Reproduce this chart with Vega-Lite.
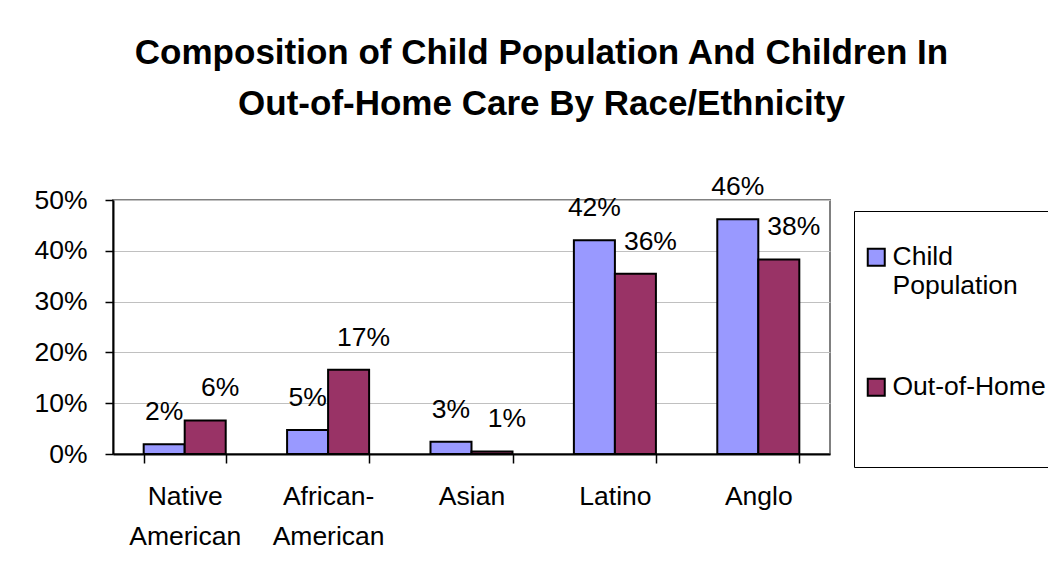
{
  "$schema": "https://vega.github.io/schema/vega-lite/v6.json",
  "autosize": "none",
  "width": 717,
  "height": 254,
  "padding": {"left": 113, "top": 200, "right": 218, "bottom": 131},
  "background": "white",
  "title": {
    "text": ["Composition of Child Population And Children In", "Out-of-Home Care By Race/Ethnicity"],
    "font": "Liberation Sans",
    "fontSize": 35,
    "fontWeight": "bold",
    "color": "#000000",
    "lineHeight": 51,
    "anchor": "middle",
    "frame": "group",
    "dx": 70,
    "offset": 52
  },
  "config": {
    "view": {"stroke": "#808080", "strokeWidth": 2},
    "font": "Liberation Sans"
  },
  "data": {
    "values": [
      {"race": "Native American", "series": "Child Population", "value": 0.019, "label": "2%"},
      {"race": "Native American", "series": "Out-of-Home", "value": 0.066, "label": "6%"},
      {"race": "African-American", "series": "Child Population", "value": 0.047, "label": "5%"},
      {"race": "African-American", "series": "Out-of-Home", "value": 0.166, "label": "17%"},
      {"race": "Asian", "series": "Child Population", "value": 0.024, "label": "3%"},
      {"race": "Asian", "series": "Out-of-Home", "value": 0.005, "label": "1%"},
      {"race": "Latino", "series": "Child Population", "value": 0.421, "label": "42%"},
      {"race": "Latino", "series": "Out-of-Home", "value": 0.355, "label": "36%"},
      {"race": "Anglo", "series": "Child Population", "value": 0.462, "label": "46%"},
      {"race": "Anglo", "series": "Out-of-Home", "value": 0.383, "label": "38%"}
    ]
  },
  "encoding": {
    "x": {
      "field": "race",
      "type": "nominal",
      "sort": ["Native American", "African-American", "Asian", "Latino", "Anglo"],
      "scale": {"paddingInner": 0.428, "paddingOuter": 0.214},
      "axis": {
        "title": null,
        "labelAngle": 0,
        "labelFont": "Liberation Sans",
        "labelFontSize": 26.5,
        "labelColor": "#000000",
        "labelLineHeight": 40,
        "labelPadding": 20,
        "labelExpr": "datum.label == 'Native American' ? ['Native', 'American'] : datum.label == 'African-American' ? ['African-', 'American'] : datum.label",
        "tickBand": "extent",
        "tickSize": 9,
        "tickColor": "#000000",
        "tickWidth": 1.5,
        "domainColor": "#000000",
        "domainWidth": 2,
        "grid": false
      }
    },
    "xOffset": {"field": "series", "type": "nominal", "sort": ["Child Population", "Out-of-Home"], "scale": {"paddingInner": 0, "paddingOuter": 0}},
    "y": {
      "field": "value",
      "type": "quantitative",
      "scale": {"domain": [0, 0.5], "nice": false},
      "axis": {
        "title": null,
        "values": [0, 0.1, 0.2, 0.3, 0.4, 0.5],
        "format": ".0%",
        "labelFont": "Liberation Sans",
        "labelFontSize": 26.5,
        "labelColor": "#000000",
        "labelPadding": 18,
        "tickSize": 8,
        "tickColor": "#000000",
        "tickWidth": 1.5,
        "domainColor": "#000000",
        "domainWidth": 2,
        "gridColor": "#c0c0c0",
        "gridWidth": 1
      }
    }
  },
  "layer": [
    {
      "mark": {"type": "bar", "stroke": "#000000", "strokeWidth": 2},
      "encoding": {
        "color": {
          "field": "series",
          "type": "nominal",
          "sort": ["Child Population", "Out-of-Home"],
          "scale": {"domain": ["Child Population", "Out-of-Home"], "range": ["#9999ff", "#993366"]},
          "legend": {
            "title": " ",
            "titleFontSize": 12,
            "titlePadding": 12,
            "orient": "none",
            "legendX": 741,
            "legendY": 11,
            "direction": "vertical",
            "symbolType": "square",
            "symbolSize": 289,
            "symbolStrokeColor": "#000000",
            "symbolStrokeWidth": 2,
            "labelFont": "Liberation Sans",
            "labelFontSize": 26.5,
            "labelColor": "#000000",
            "labelLimit": 400,
            "labelOffset": 3,
            "labelExpr": "datum.label == 'Child Population' ? ['Child', 'Population'] : [datum.label, ' ', ' ']",
            "rowPadding": 74,
            "padding": 9,
            "strokeColor": "#000000",
            "fillColor": "#ffffff"
          }
        }
      }
    },
    {
      "transform": [{"filter": "datum.series == 'Child Population'"}],
      "mark": {"type": "text", "font": "Liberation Sans", "fontSize": 26.5, "color": "#000000", "baseline": "alphabetic", "dy": -24},
      "encoding": {"text": {"field": "label"}}
    },
    {
      "transform": [{"filter": "datum.series == 'Out-of-Home'"}],
      "mark": {"type": "text", "font": "Liberation Sans", "fontSize": 26.5, "color": "#000000", "baseline": "alphabetic", "dy": -24, "dx": 15},
      "encoding": {"text": {"field": "label"}}
    }
  ]
}
